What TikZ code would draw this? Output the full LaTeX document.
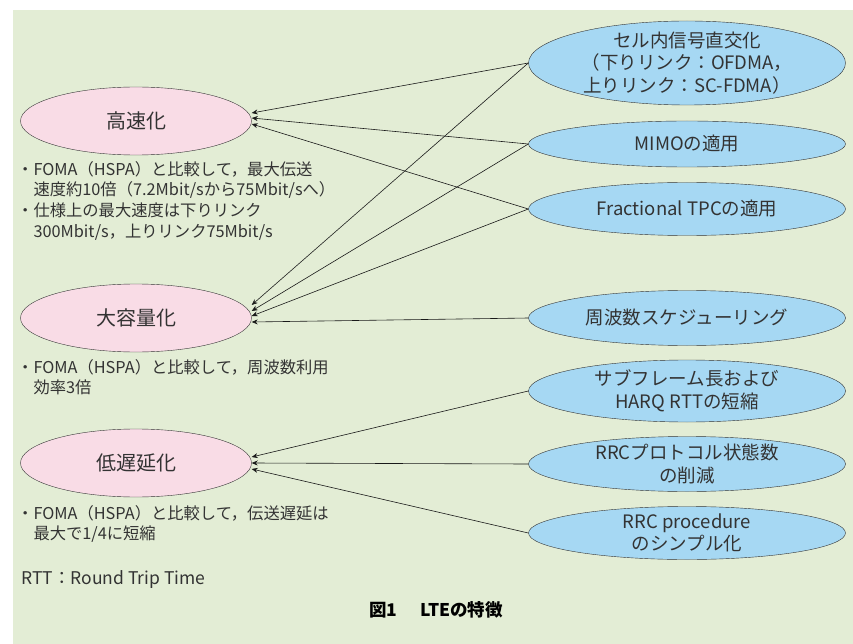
\documentclass[tikz,border=0pt]{standalone}
\usepackage{fontspec}
\setmainfont{Noto Sans CJK JP}
\usetikzlibrary{shapes.geometric}
\usetikzlibrary{arrows.meta}
\usetikzlibrary{positioning}
\definecolor{bgcol}{HTML}{E3EDD5}
\definecolor{goalcol}{HTML}{F9DCE6}
\definecolor{techcol}{HTML}{A6D8F3}
\definecolor{txtcol}{HTML}{333333}

\begin{document}
\begin{tikzpicture}[x=1pt,y=-1pt,
    goal/.style={ellipse, draw=black!80, fill=goalcol, minimum width=231pt,
      minimum height=68pt, inner sep=0pt, text=txtcol,
      font=\fontsize{20}{24}\selectfont},
    tech/.style={ellipse, draw=black!80, fill=techcol, minimum width=317pt,
      inner sep=-3pt, align=center, text=txtcol,
      font=\fontsize{18.5}{22.5}\selectfont},
    note/.style={anchor=north west, inner sep=0pt, align=left, text=txtcol,
      font=\fontsize{16.3}{20.7}\selectfont},
    link/.style={-{Stealth[length=6pt,width=5pt]}, draw=black!90, line width=0.6pt}]
        \useasboundingbox (0,0) rectangle (853,644);
        \fill[bgcol] (13,10) rectangle (853,644);
        % Nodes
        \node[goal] (speed)    at (136,121) {高速化};
        \node[goal] (capacity) at (136,318) {大容量化};
        \node[goal] (latency)  at (136,463) {低遅延化};
        \node[tech, minimum height=84pt] (ortho) at (687,63)
          {セル内信号直交化\\（下りリンク：OFDMA，\\上りリンク：SC-FDMA）};
        \node[tech, minimum height=46pt] (mimo)  at (687,144) {MIMOの適用};
        \node[tech, minimum height=53pt] (tpc)   at (687,209) {Fractional TPCの適用};
        \node[tech, minimum height=55pt] (sched) at (687,318) {周波数スケジューリング};
        \node[tech, minimum height=62pt] (subfr) at (687,391) {サブフレーム長および\\HARQ RTTの短縮};
        \node[tech, minimum height=55pt] (rrcst) at (687,464) {RRCプロトコル状態数\\の削減};
        \node[tech, minimum height=53pt] (rrcpr) at (687,533) {RRC procedure\\のシンプル化};
        % Notes
        \node[note] (speednote) at (17,161)
          {・FOMA（HSPA）と比較して，最大伝送\\\hspace*{1em}速度約10倍（7.2Mbit/sから75Mbit/sへ）\\
           ・仕様上の最大速度は下りリンク\\\hspace*{1em}300Mbit/s，上りリンク75Mbit/s};
        \node[note] (capnote) at (17,359)
          {・FOMA（HSPA）と比較して，周波数利用\\\hspace*{1em}効率3倍};
        \node[note] (latnote) at (17,505)
          {・FOMA（HSPA）と比較して，伝送遅延は\\\hspace*{1em}最大で1/4に短縮};
        \node[note, anchor=west, font=\fontsize{17.5}{20}\selectfont] (rtt) at (21,580)
          {RTT：Round Trip Time};
        \node[font=\bfseries\fontsize{17.5}{20}\selectfont] (caption) at (436,610)
          {図1\hspace{1.3em}LTEの特徴};
        % Edges
        \draw[link] (ortho.west) -- ([yshift=8pt]speed.east);
        \draw[link] (mimo.west)  -- ([yshift=3pt]speed.east);
        \draw[link] (tpc.west)   -- ([yshift=-3pt]speed.east);
        \draw[link] (ortho.west) -- ([yshift=13pt]capacity.east);
        \draw[link] (mimo.west)  -- ([yshift=7pt]capacity.east);
        \draw[link] (tpc.west)   -- ([yshift=2pt]capacity.east);
        \draw[link] (sched.west) -- ([yshift=-4pt]capacity.east);
        \draw[link] (subfr.west) -- ([yshift=6pt]latency.east);
        \draw[link] (rrcst.west) -- (latency.east);
        \draw[link] (rrcpr.west) -- ([yshift=-6pt]latency.east);
    \end{tikzpicture}
\end{document}
